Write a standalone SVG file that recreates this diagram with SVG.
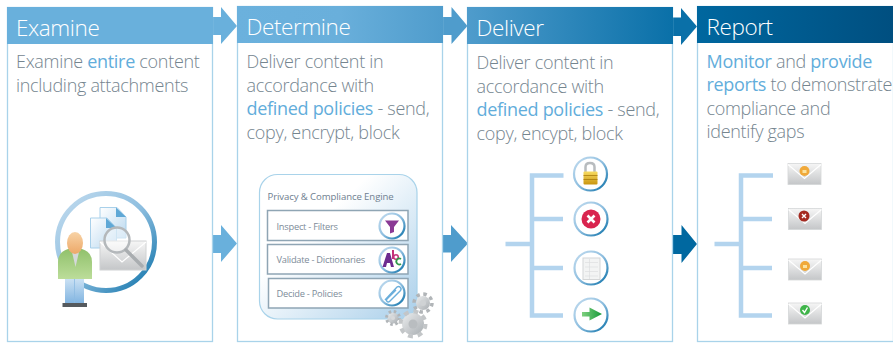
<svg xmlns="http://www.w3.org/2000/svg" xmlns:xlink="http://www.w3.org/1999/xlink" width="893" height="343" viewBox="0 0 893 343">
<style>
text{font-family:"Open Sans","Noto Sans","Liberation Sans",sans-serif}
.panel{fill:#fff;stroke:#a9d3ea;stroke-width:1.3}
.title{font-size:22.5px;font-weight:300;fill:#fff;letter-spacing:-.4px}
.body{font-size:18px;font-weight:300;fill:#75858f;letter-spacing:-.3px}
.hl{fill:#62addb;font-weight:400}
.row{fill:#fff;stroke:#8fa5b4;stroke-width:1.5}
.rowt{font-size:9.300px;fill:#7d8c99;letter-spacing:-.25px}
.ring{fill:#fff;stroke:url(#ringG);stroke-width:2.2}
.tree{fill:none;stroke:#b3d4ee;stroke-width:4.5}
.env{fill:url(#envG);stroke:#d4d6d7;stroke-width:.8}
.flap{fill:none;stroke:#fff;stroke-width:1.2}
</style>
<defs>
<linearGradient id="h1"><stop offset="0" stop-color="#69b0dc"/><stop offset="1" stop-color="#69b0dc"/></linearGradient>
<linearGradient id="h2"><stop offset="0" stop-color="#6bb1dd"/><stop offset=".5" stop-color="#69afdb"/><stop offset="1" stop-color="#4f9ccc"/></linearGradient>
<linearGradient id="h3"><stop offset="0" stop-color="#4f9ccc"/><stop offset="1" stop-color="#0a70a8"/></linearGradient>
<linearGradient id="h4"><stop offset="0" stop-color="#00679f"/><stop offset="1" stop-color="#004f80"/></linearGradient>
<linearGradient id="ringG" x1="0" y1="0" x2="1" y2="1"><stop offset="0" stop-color="#c3dcef"/><stop offset=".5" stop-color="#8fbfe0"/><stop offset="1" stop-color="#0a70a8"/></linearGradient>
<linearGradient id="engG" x1="0" y1="0" x2="1" y2="1"><stop offset=".35" stop-color="#fff"/><stop offset="1" stop-color="#a9cfea"/></linearGradient>
<linearGradient id="envG" x1="0" y1="0" x2="0" y2="1"><stop offset="0" stop-color="#f6f6f6"/><stop offset="1" stop-color="#c4c6c8"/></linearGradient>
<linearGradient id="docG" x1="0" y1="0" x2="1" y2="1"><stop offset="0" stop-color="#fff"/><stop offset="1" stop-color="#b9d8ef"/></linearGradient>
<linearGradient id="shirt" x1="0" y1="0" x2="0" y2="1"><stop offset="0" stop-color="#8fc06a"/><stop offset="1" stop-color="#bcdd9a"/></linearGradient>
<linearGradient id="legs" x1="0" y1="0" x2="0" y2="1"><stop offset="0" stop-color="#d3e6f6"/><stop offset="1" stop-color="#7fb3e0"/></linearGradient>
<linearGradient id="skin" x1="0" y1="0" x2="0" y2="1"><stop offset="0" stop-color="#f8d3a6"/><stop offset="1" stop-color="#eda868"/></linearGradient>
<linearGradient id="gold" x1="0" y1="0" x2="0" y2="1"><stop offset="0" stop-color="#f8dc62"/><stop offset="1" stop-color="#c9950f"/></linearGradient>
<linearGradient id="gearG" x1="0" y1="0" x2="1" y2="1"><stop offset="0" stop-color="#eceeef"/><stop offset="1" stop-color="#a8adb1"/></linearGradient>
<linearGradient id="arrG"><stop offset="0" stop-color="#7fd07f"/><stop offset="1" stop-color="#169a3a"/></linearGradient>
<g id="envelope">
<rect class="env" x="0" y="0" width="33" height="21"/>
<path class="flap" d="M0 1 L16.5 15 L33 1"/>
</g>
</defs>

<g id="connectors">
<path d="M212 17H221V7L237 26L221 44V35H212Z" fill="#69b0dc"/>
<path d="M442 17H451.500V7L467.500 26L451.500 44V35H442Z" fill="#4f9ccc"/>
<path d="M672 17.500H681V8L697 26.500L681 45V36H672Z" fill="#0a70a8"/>
<path d="M212 235H221V225L237 243.500L221 262V253H212Z" fill="#69b0dc"/>
<path d="M442.500 235H451V225L468 243.500L451 262V252.500H442.500Z" fill="#4f9ccc"/>
<path d="M672 235H681.500V225L697 244L681.500 263V254H672Z" fill="#0068a0"/>
</g>

<g id="node-examine">
<rect class="panel" x="7.500" y="7.500" width="205" height="334"/>
<rect x="7" y="7" width="206" height="37" fill="url(#h1)"/>
<text class="title" x="16" y="36">Examine</text>
<text class="body" x="16" y="68">Examine <tspan class="hl">entire</tspan> content</text>
<text class="body" x="16" y="92">including attachments</text>
<circle cx="106" cy="242" r="48.500" fill="none" stroke="url(#ringG)" stroke-width="5"/>
<path d="M100 207.500H117L126 217V238H100Z" fill="url(#docG)" stroke="#a8d0ea" stroke-width="1"/>
<path d="M90.500 218H107L116.500 228V248H90.500Z" fill="url(#docG)" stroke="#a8d0ea" stroke-width="1"/>
<path d="M106 218L116.500 228H106Z" fill="#5fa8d6"/>
<path d="M116 207.500L126 217H116Z" fill="#5fa8d6"/>
<rect x="100" y="241" width="46" height="29" fill="url(#envG)" stroke="#d0d2d3" stroke-width="1"/>
<path d="M100 242L122 262L146 242" fill="none" stroke="#fff" stroke-width="1.200"/>
<circle cx="117" cy="240" r="12.500" fill="#fff" fill-opacity=".45" stroke="#b4b8bb" stroke-width="2.500"/>
<path d="M126 250L142 266" stroke="#a9adb0" stroke-width="3.500" stroke-linecap="round"/>
<rect x="65" y="276" width="19" height="28" fill="url(#legs)"/>
<path d="M74.500 279V304" stroke="#8dbbe2" stroke-width=".8"/>
<rect x="62.500" y="303" width="24.500" height="4" fill="#555a5e"/>
<path d="M58 279V262Q58 252 68 249L75 248L82 249Q92 252 92 262V279Z" fill="url(#shirt)"/>
<path d="M72 252H79L75.500 267Z" fill="#d5d8da"/>
<ellipse cx="75" cy="243" rx="8" ry="11" fill="url(#skin)"/>
</g>

<g id="node-determine">
<rect class="panel" x="237.500" y="6.500" width="205" height="335"/>
<rect x="237" y="6" width="206" height="37" fill="url(#h2)"/>
<text class="title" x="246.500" y="35">Determine</text>
<text class="body" x="246.500" y="67.500">Deliver content in</text>
<text class="body" x="246.500" y="91.500">accordance with</text>
<text class="body" x="246.500" y="115"><tspan class="hl">defined policies</tspan> - send,</text>
<text class="body" x="246.500" y="138.500">copy, encrypt, block</text>
</g>

<g id="node-engine">
<rect x="259.500" y="174.500" width="157.500" height="144.500" rx="18" fill="url(#engG)" stroke="#a9d3ea" stroke-width="1.200"/>
<text x="267.500" y="200" font-size="9.600" letter-spacing="-.1" fill="#6f8090">Privacy &amp; Compliance Engine</text>
<rect class="row" x="267.500" y="210.500" width="140.500" height="30"/>
<rect class="row" x="267.500" y="244.500" width="140.500" height="29.500"/>
<rect class="row" x="268.500" y="278.500" width="139.500" height="29.500"/>
<text class="rowt" x="276.500" y="229.500">Inspect - Filters</text>
<text class="rowt" x="276.500" y="263">Validate - Dictionaries</text>
<text class="rowt" x="276.500" y="296.500">Decide - Policies</text>
<circle class="ring" cx="392" cy="226" r="12.500"/>
<path d="M385 220.500H399L394 227V232L390 233.500V227Z" fill="#8a3a95"/>
<circle class="ring" cx="392" cy="260" r="12.500"/>
<path d="M382.500 267L387 253H390L394 267H391L390 263H387L386 267Z" fill="#6d2b8f"/>
<path d="M393 250V259" stroke="#c5317a" stroke-width="2"/>
<circle cx="396" cy="257" r="2.300" fill="none" stroke="#c5317a" stroke-width="1.500"/>
<path d="M401 259A3 3 0 1 0 401 264" fill="none" stroke="#2f9a4a" stroke-width="1.800"/>
<circle class="ring" cx="392" cy="293" r="12.500"/>
<path d="M385 300L397 287A2.500 2.500 0 0 1 400.500 290.500L389.500 301.500A1.500 1.500 0 0 1 387 299L396 290" fill="none" stroke="#6aaedb" stroke-width="1.400"/>
<g id="gears">
<circle cx="423" cy="303" r="7" fill="url(#gearG)"/>
<circle cx="423" cy="303" r="9" fill="none" stroke="#b1b5b8" stroke-width="3.500" stroke-dasharray="3.500 3.570"/>
<circle cx="423" cy="303" r="3" fill="#cfd2d4"/>
<circle cx="393" cy="318" r="5.500" fill="url(#gearG)"/>
<circle cx="393" cy="318" r="6.500" fill="none" stroke="#b1b5b8" stroke-width="3" stroke-dasharray="2.500 2.600"/>
<circle cx="393" cy="318" r="2" fill="#d8dadb"/>
<circle cx="413" cy="324" r="11" fill="url(#gearG)"/>
<circle cx="413" cy="324" r="12.500" fill="none" stroke="#c3c6c8" stroke-width="4" stroke-dasharray="4.900 4.920"/>
<circle cx="413" cy="324" r="4.500" fill="#b9bdc0"/>
</g>
</g>

<g id="node-deliver">
<rect class="panel" x="467.500" y="7.500" width="205" height="334"/>
<rect x="467" y="7" width="206" height="37" fill="url(#h3)"/>
<text class="title" x="476.500" y="36">Deliver</text>
<text class="body" x="476.500" y="68.500">Deliver content in</text>
<text class="body" x="476.500" y="92.500">accordance with</text>
<text class="body" x="476.500" y="116"><tspan class="hl">defined policies</tspan> - send,</text>
<text class="body" x="476.500" y="139.500">copy, encypt, block</text>
<path class="tree" d="M505.500 244H532M563.500 175.500H532V315.500H563M532 219H563M532 268H563"/>
<circle class="ring" cx="590.500" cy="174" r="16.500"/>
<path d="M585.500 174V167Q585.500 163 590 163Q594.500 163 594.500 167V174" fill="none" stroke="#b8bcbf" stroke-width="2.500"/>
<rect x="583.500" y="171.500" width="14" height="13" rx="1" fill="url(#gold)"/>
<path d="M583.500 175.500H597.500M583.500 179.500H597.500" stroke="#a87c0c" stroke-width=".8"/>
<circle class="ring" cx="591" cy="219" r="16.500"/>
<circle cx="591" cy="219" r="9.500" fill="#d9254f"/>
<path d="M587.500 215.500L594.500 222.500M594.500 215.500L587.500 222.500" stroke="#fff" stroke-width="2.600"/>
<circle class="ring" cx="591" cy="268" r="16.500"/>
<rect x="583" y="258" width="17" height="21.500" fill="#f3f4f4" stroke="#d4d6d7" stroke-width="1"/>
<path d="M585 262.500H598M585 267H598M585 271.500H598M585 276H598M589.500 259V279" stroke="#dcdedf" stroke-width=".7"/>
<circle class="ring" cx="591" cy="315" r="16.500"/>
<path d="M582 312H589.500V307.500L602 314L589.500 320.500V316.500H582Z" fill="url(#arrG)"/>
</g>

<g id="node-report">
<rect class="panel" x="697.500" y="6.500" width="196" height="335"/>
<rect x="697" y="6" width="196" height="37" fill="url(#h4)"/>
<text class="title" x="706.500" y="35">Report</text>
<text class="body" x="706.500" y="67.500"><tspan class="hl">Monitor</tspan> and <tspan class="hl">provide</tspan></text>
<text class="body" x="706.500" y="91"><tspan class="hl">reports</tspan> to demonstrate</text>
<text class="body" x="706.500" y="115">compliance and</text>
<text class="body" x="706.500" y="138">identify gaps</text>
<path class="tree" d="M714.500 244H741M773 175.500H741V315.500H772M741 219H772M741 268H772"/>
<use href="#envelope" x="788" y="163.500"/>
<circle cx="804.500" cy="171" r="5" fill="#f0a93a"/>
<rect x="802.500" y="170" width="4" height="3" fill="#fbe3a0"/>
<use href="#envelope" x="788.500" y="208.500"/>
<circle cx="804" cy="216" r="5.500" fill="#a52a20"/>
<path d="M802 214L806 218M806 214L802 218" stroke="#fff" stroke-width="1.400"/>
<use href="#envelope" x="788.500" y="259"/>
<circle cx="805" cy="266" r="5" fill="#f0a93a"/>
<rect x="803" y="265" width="4" height="3" fill="#fbe3a0"/>
<use href="#envelope" x="788.500" y="303"/>
<circle cx="805" cy="310" r="5" fill="#3fb54a"/>
<path d="M802.500 310L804.500 312.500L807.500 307.500" fill="none" stroke="#fff" stroke-width="1.400"/>
</g>
</svg>
